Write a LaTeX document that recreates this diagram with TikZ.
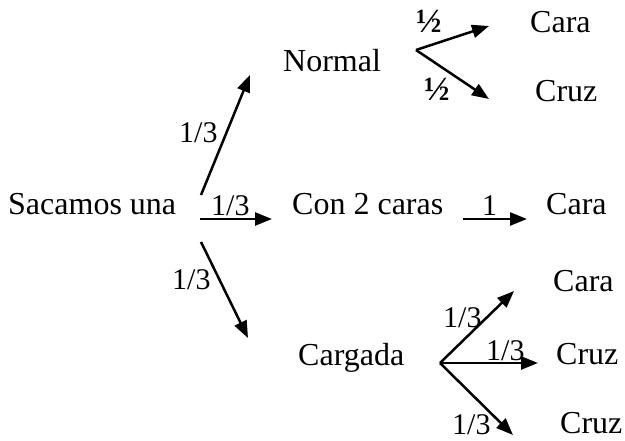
\documentclass[tikz,border=0pt]{standalone}
\usepackage{fontspec}
\setmainfont{Liberation Serif}
\usetikzlibrary{arrows.meta}
\tikzset{
	every node/.style={font=\fontsize{32}{38}\selectfont, inner sep=0pt, anchor=base west},
	branch/.style={line width=2.5pt, -{Triangle[length=17pt,width=13pt]}},
	prob/.style={font=\fontsize{30}{36}\selectfont},
	half/.style={font=\fontsize{34}{40}\selectfont\bfseries},
}
\begin{document}
\begin{tikzpicture}[x=1pt,y=-1pt]
	\useasboundingbox (0,0) rectangle (625,441);
	% outcomes of the first draw
	\node (sac) at (8,215) {Sacamos una};
	\node (normal) at (283,72) {Normal};
	\node (dos) at (292,215) {Con 2 caras};
	\node (carg) at (298,366) {Cargada};
	% outcomes of the toss
	\node (n-cara) at (530,33) {Cara};
	\node (n-cruz) at (535,102) {Cruz};
	\node (d-cara) at (546,215) {Cara};
	\node (c-cara) at (553,292) {Cara};
	\node (c-cruz) at (556,365) {Cruz};
	\node (c-cruz2) at (560,434) {Cruz};
	% branch ends
	\coordinate (s-up) at (201,195);
	\coordinate (s-mid) at (200,219);
	\coordinate (s-dn) at (201,242);
	\coordinate (t-up) at (250,75);
	\coordinate (t-mid) at (272,219);
	\coordinate (t-dn) at (248,338);
	\coordinate (nv) at (416,50);
	\coordinate (nv-up) at (489,26);
	\coordinate (nv-dn) at (489,99);
	\coordinate (dv) at (463,219);
	\coordinate (dv-end) at (527,219);
	\coordinate (cv) at (440,363);
	\coordinate (cv-up) at (514,291);
	\coordinate (cv-mid) at (538,363);
	\coordinate (cv-dn) at (513,435);
	\draw[branch] (s-up) -- (t-up);
	\draw[branch] (s-mid) -- (t-mid);
	\draw[branch] (s-dn) -- (t-dn);
	\draw[branch] (nv) -- (nv-up);
	\draw[branch] (nv) -- (nv-dn);
	\draw[branch] (dv) -- (dv-end);
	\draw[branch] (cv) -- (cv-up);
	\draw[branch] (cv) -- (cv-mid);
	\draw[branch] (cv) -- (cv-dn);
	% probabilities
	\node[prob] (p1) at (179,143) {1/3};
	\node[prob] (p2) at (211,216) {1/3};
	\node[prob] (p3) at (172,290) {1/3};
	\node[half] (p4) at (416,33) {½};
	\node[half] (p5) at (424,101) {½};
	\node[prob] (p6) at (482,216) {1};
	\node[prob] (p7) at (443,328) {1/3};
	\node[prob] (p8) at (486,360) {1/3};
	\node[prob] (p9) at (452,435) {1/3};
\end{tikzpicture}
\end{document}
